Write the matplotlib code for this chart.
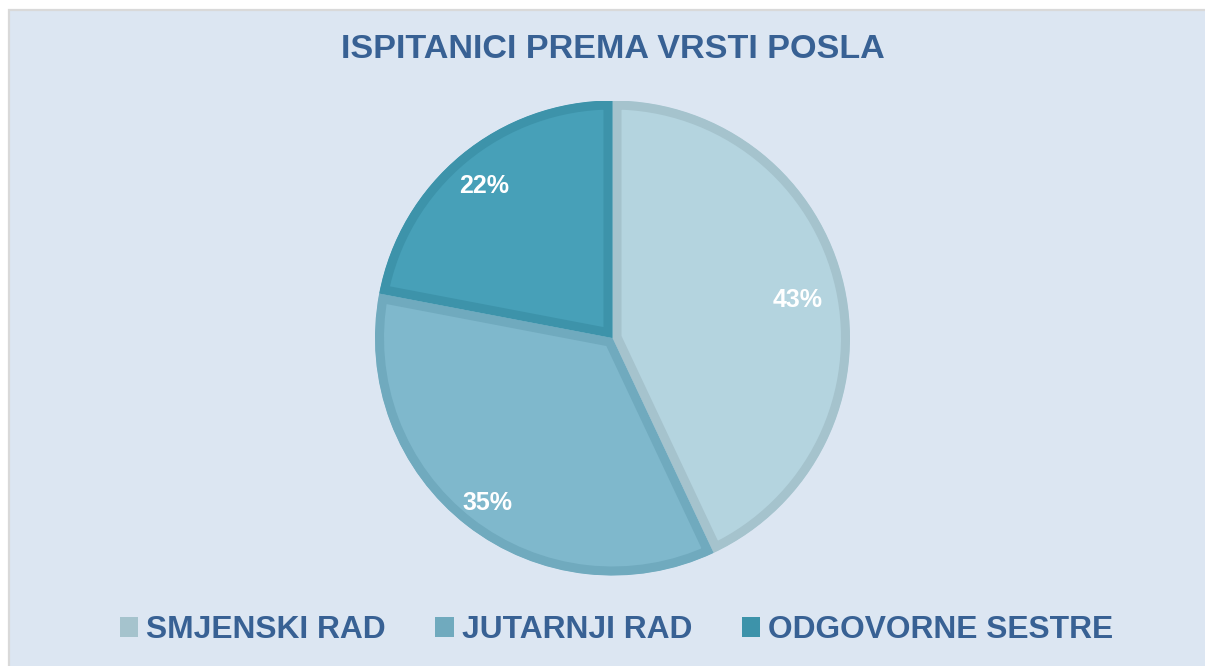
import matplotlib
matplotlib.use("Agg")
import matplotlib.pyplot as plt
from matplotlib.patches import Patch, Rectangle

plt.rcParams["font.family"] = ["Liberation Sans", "DejaVu Sans"]

# data
categories = ["SMJENSKI RAD", "JUTARNJI RAD", "ODGOVORNE SESTRE"]
shares = [43, 35, 22]
title = "ISPITANICI PREMA VRSTI POSLA"

fill_colors = ["#B4D4DF", "#7FB8CC", "#47A0B8"]
edge_colors = ["#A5C3CD", "#70AABE", "#3D93AA"]
label_dist = [0.80, 0.86, 0.85]
text_color = "#386194"
bg_color = "#DCE6F2"

W, H = 1205, 666
fig = plt.figure(figsize=(W / 100, H / 100), dpi=100, facecolor="white")

# chart area frame (drawn beneath the axes)
frame = Rectangle(
    (9 / W, -0.1), 1.1, (H - 10) / H + 0.1,
    transform=fig.transFigure, facecolor=bg_color,
    edgecolor="#D9D9D9", linewidth=1.6, zorder=-5,
)
fig.patches.append(frame)

# pie axes placed in pixel terms: center (612.5, 338), radius 237.5
cx, cy, r = 612.5, 338, 237.5
ax = fig.add_axes([(cx - r) / W, (H - cy - r) / H, 2 * r / W, 2 * r / H])
ax.set_facecolor("none")

wedges, _, autotexts = ax.pie(
    shares,
    colors=fill_colors,
    startangle=90,
    counterclock=False,
    radius=1,
    autopct=lambda p: f"{p:.0f}%",
    pctdistance=0.8,
    textprops=dict(color="white", fontsize=18, fontweight="bold"),
    wedgeprops=dict(linewidth=13),
)
for w, ec in zip(wedges, edge_colors):
    w.set_edgecolor(ec)
    w.set_clip_on(True)
    w.set_clip_path(w)  # keep the stroke inside the wedge
for t, d in zip(autotexts, label_dist):
    x, y = t.get_position()
    t.set_position((x / 0.8 * d, y / 0.8 * d - 0.015))
ax.set_xlim(-1, 1)
ax.set_ylim(-1, 1)

fig.text((W / 2 + 10) / W, (H - 50) / H, title, ha="center", va="center",
         fontsize=24.6, fontweight="bold", color=text_color)

handles = [Patch(facecolor=ec, edgecolor="none", label=c)
           for c, ec in zip(categories, edge_colors)]
fig.legend(
    handles=handles, loc="center",
    bbox_to_anchor=((W / 2 + 14) / W, (H - 630) / H),
    ncol=3, frameon=False, labelcolor=text_color,
    prop=dict(weight="bold", size=22.9),
    handlelength=0.58, handleheight=0.58, handletextpad=0.26,
    columnspacing=1.55,
)

fig.savefig("out.png", dpi=100, facecolor="white")
